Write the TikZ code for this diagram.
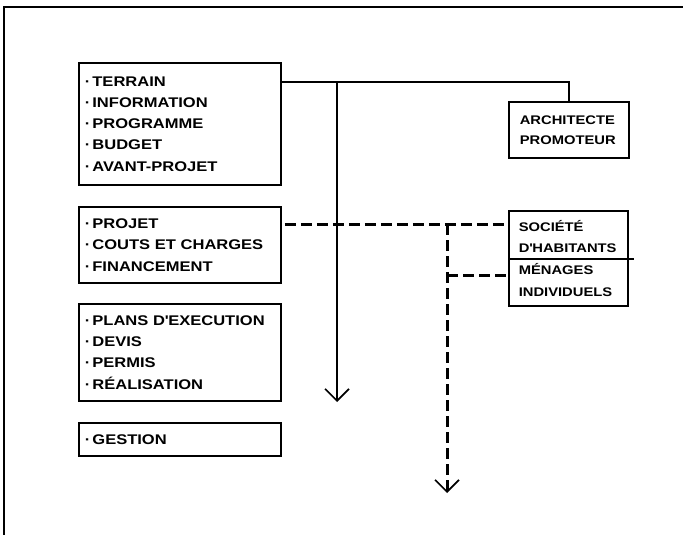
\documentclass[tikz,border=0pt]{standalone}
\usepackage{fontspec}
\setmainfont{Liberation Sans}[FakeStretch=1.18]
\usetikzlibrary{arrows.meta}

\begin{document}
\begin{tikzpicture}[x=1pt,y=-1pt,
  frameline/.style={line width=1.3pt},
  stagebox/.style={draw, line width=1.8pt, anchor=north west,
    minimum width=202pt, text width=190pt, inner xsep=6pt, inner ysep=0pt,
    align=left, font=\bfseries\fontsize{14}{21.3}\selectfont},
  actorbox/.style={draw, line width=1.6pt, anchor=north west,
    inner ysep=0pt, align=left},
  link/.style={line width=1.5pt},
  dashlink/.style={line width=3pt, dash pattern=on 11pt off 5pt},
  barb/.style={-{Straight Barb[length=12pt,width=24pt,line width=1.6pt]}}
]
\useasboundingbox (0,0) rectangle (683,535);
\fill[white] (0,0) rectangle (683,535);

% outer sheet border (open to the right and bottom)
\draw[frameline] (4,535) -- (4,7) -- (683,7);

% stages of the operation
\node[stagebox, minimum height=122pt] (terrain) at (78,62)
  {·\hspace{2pt}TERRAIN\\ ·\hspace{2pt}INFORMATION\\ ·\hspace{2pt}PROGRAMME\\ ·\hspace{2pt}BUDGET\\ ·\hspace{2pt}AVANT-PROJET};
\node[stagebox, minimum height=76pt] (projet) at (78,206)
  {·\hspace{2pt}PROJET\\ ·\hspace{2pt}COUTS ET CHARGES\\ ·\hspace{2pt}FINANCEMENT};
\node[stagebox, minimum height=97pt] (plans) at (78,303)
  {·\hspace{2pt}PLANS D\textquotesingle EXECUTION\\ ·\hspace{2pt}DEVIS\\ ·\hspace{2pt}PERMIS\\ ·\hspace{2pt}RÉALISATION};
\node[stagebox, minimum height=33pt] (gestion) at (78,422)
  {·\hspace{2pt}GESTION};

% actors
\node[actorbox, minimum width=118pt, minimum height=56pt, text width=98pt,
  inner xsep=11pt, font=\bfseries\fontsize{12.5}{20}\selectfont] (archi) at (508,101)
  {ARCHITECTE\\ PROMOTEUR};
\node[actorbox, minimum width=119pt, minimum height=95pt, text width=99pt,
  inner xsep=10pt, font=\bfseries\fontsize{12.5}{21.7}\selectfont] (societe) at (508,210)
  {SOCIÉTÉ\\ D\textquotesingle HABITANTS\\ MÉNAGES\\ INDIVIDUELS};
\coordinate (split) at (0,259);
\draw[line width=1.2pt] (societe.west |- split) -- ([xshift=5pt]societe.east |- split);

% professional line
\coordinate (j1) at (337,82);
\coordinate (tipA) at (337,402);
\draw[link] (terrain.east |- j1) -- (j1) -| (archi.north);
\draw[link, barb] (j1) -- (tipA);

% inhabitants line
\coordinate (j2) at (447,224);
\coordinate (j3) at (447,275);
\coordinate (tipB) at (447,493);
\draw[dashlink, shorten <=3pt] (projet.east |- j2) -- (societe.west |- j2);
\draw[dashlink, barb] (j2) -- (tipB);
\draw[dashlink] (j3) -- (societe.west |- j3);
\end{tikzpicture}
\end{document}
